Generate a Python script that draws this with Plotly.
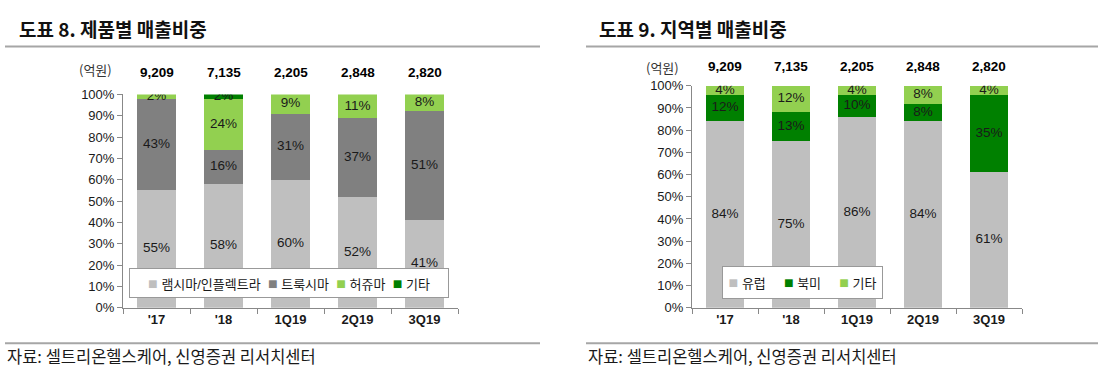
import plotly.graph_objects as go

W, H = 1104, 383

categories = ["'17", "'18", "1Q19", "2Q19", "3Q19"]
totals = ["9,209", "7,135", "2,205", "2,848", "2,820"]

# Chart 8: product mix (%)
prod_names = ["램시마/인플렉트라", "트룩시마", "허쥬마", "기타"]
remsima = [55, 58, 60, 52, 41]
truxima = [43, 16, 31, 37, 51]
herzuma = [2, 24, 9, 11, 8]
prod_etc = [0, 2, 0, 0, 0]
prod_colors = ["#BFBFBF", "#808080", "#92D050", "#008000"]

# Chart 9: regional mix (%)
reg_names = ["유럽", "북미", "기타"]
europe = [84, 75, 86, 84, 61]
namerica = [12, 13, 10, 8, 35]
reg_etc = [4, 12, 4, 8, 4]
reg_colors = ["#BFBFBF", "#008000", "#92D050"]

FONT = "Arial, 'Liberation Sans', 'Noto Sans CJK KR', sans-serif"
KFONT = "'Noto Sans CJK KR', 'Noto Sans', sans-serif"
TXT = "#1a1a1a"


def X(px):
    return px / W


def Y(py):
    return 1 - py / H


fig = go.Figure()


def add_stack(series, names, colors, xa, ya):
    cum = [0] * len(categories)
    for vals, name, col in zip(series, names, colors):
        fig.add_trace(go.Bar(
            x=categories, y=vals, name=name, marker=dict(color=col, line=dict(width=0)),
            xaxis=xa, yaxis=ya, showlegend=False, hoverinfo="skip"))
        mids, labels = [], []
        for i, v in enumerate(vals):
            mids.append(cum[i] + v / 2)
            labels.append(f"{v}%" if v > 0 else "")
            cum[i] += v
        fig.add_trace(go.Scatter(
            x=categories, y=mids, text=labels, mode="text",
            textfont=dict(family=FONT, size=13.5, color=TXT),
            xaxis=xa, yaxis=ya, showlegend=False, hoverinfo="skip"))


add_stack([remsima, truxima, herzuma, prod_etc], prod_names, prod_colors, "x", "y")
add_stack([europe, namerica, reg_etc], reg_names, reg_colors, "x2", "y2")

axis_common = dict(showline=True, linecolor="#888888", linewidth=1, ticks="outside",
                   tickcolor="#888888", ticklen=5, showgrid=False, zeroline=False)

xcommon = dict(axis_common, type="category", tickson="boundaries", range=[-0.5, 4.5],
               tickfont=dict(family=FONT, size=13, color=TXT, weight="bold"))
ycommon = dict(axis_common, range=[0, 100], dtick=10, ticksuffix="%",
               tickfont=dict(family=FONT, size=13, color=TXT))

fig.update_layout(
    width=W, height=H, margin=dict(l=0, r=0, t=0, b=0),
    plot_bgcolor="white", paper_bgcolor="white",
    barmode="stack", bargap=0.43, showlegend=False,
    xaxis=dict(xcommon, domain=[X(123), X(458)], anchor="y"),
    yaxis=dict(ycommon, domain=[Y(313), Y(91)], anchor="x"),
    xaxis2=dict(xcommon, domain=[X(692), X(1022)], anchor="y2"),
    yaxis2=dict(ycommon, domain=[Y(313), Y(82)], anchor="x2"),
)

ann = []
# titles
ann.append(dict(text="<b>도표 8. 제품별 매출비중</b>", x=X(17), y=Y(22), xref="paper", yref="paper",
                xanchor="left", yanchor="middle", showarrow=False,
                font=dict(family=KFONT, size=19, color="#111111")))
ann.append(dict(text="<b>도표 9. 지역별 매출비중</b>", x=X(597), y=Y(22), xref="paper", yref="paper",
                xanchor="left", yanchor="middle", showarrow=False,
                font=dict(family=KFONT, size=19, color="#111111")))
# sources
for sx in (5, 586):
    ann.append(dict(text="자료: 셀트리온헬스케어, 신영증권 리서치센터", x=X(sx), y=Y(363),
                    xref="paper", yref="paper", xanchor="left", yanchor="middle", showarrow=False,
                    font=dict(family=KFONT, size=16.5, color=TXT)))
# unit labels
ann.append(dict(text="(억원)", x=X(95), y=Y(65), xref="paper", yref="paper", showarrow=False,
                xanchor="center", yanchor="middle", font=dict(family=KFONT, size=13, color="#333333")))
ann.append(dict(text="(억원)", x=X(662), y=Y(63), xref="paper", yref="paper", showarrow=False,
                xanchor="center", yanchor="middle", font=dict(family=KFONT, size=13, color="#333333")))
# totals
for c, t in zip(categories, totals):
    ann.append(dict(text=f"<b>{t}</b>", x=c, y=Y(68), xref="x", yref="paper", showarrow=False,
                    yanchor="middle", font=dict(family=FONT, size=13.5, color="#000000")))
    ann.append(dict(text=f"<b>{t}</b>", x=c, y=Y(62), xref="x2", yref="paper", showarrow=False,
                    yanchor="middle", font=dict(family=FONT, size=13.5, color="#000000")))


# legends (boxed, built from series names and colours)
def legend_text(names, colors, gap):
    sp = "\u00a0" * gap
    parts = [f'<span style="color:{c};font-size:16px">■</span>\u00a0{n}' for n, c in zip(names, colors)]
    return sp.join(parts)


ann.append(dict(text=legend_text(prod_names, prod_colors, 2), x=X(289), y=Y(287),
                xref="paper", yref="paper", xanchor="center", yanchor="middle", showarrow=False,
                width=314, height=24, align="center", borderpad=2,
                bgcolor="white", bordercolor="#999999", borderwidth=1,
                font=dict(family=FONT, size=13, color=TXT)))
ann.append(dict(text=legend_text(reg_names, reg_colors, 5), x=X(802.5), y=Y(286.5),
                xref="paper", yref="paper", xanchor="center", yanchor="middle", showarrow=False,
                width=155, height=27, align="center", borderpad=2,
                bgcolor="white", bordercolor="#999999", borderwidth=1,
                font=dict(family=FONT, size=13, color=TXT)))
fig.update_layout(annotations=ann)

shapes = []
for x0, x1 in ((5, 540), (586, 1098)):
    for yy in (41, 350):
        shapes.append(dict(type="line", xref="paper", yref="paper", x0=X(x0), x1=X(x1),
                           y0=Y(yy), y1=Y(yy), line=dict(color="#A6A6A6", width=2)))
fig.update_layout(shapes=shapes)

fig.write_html("out.html", config={"displayModeBar": False},
               post_script="document.body.style.margin='0';")
